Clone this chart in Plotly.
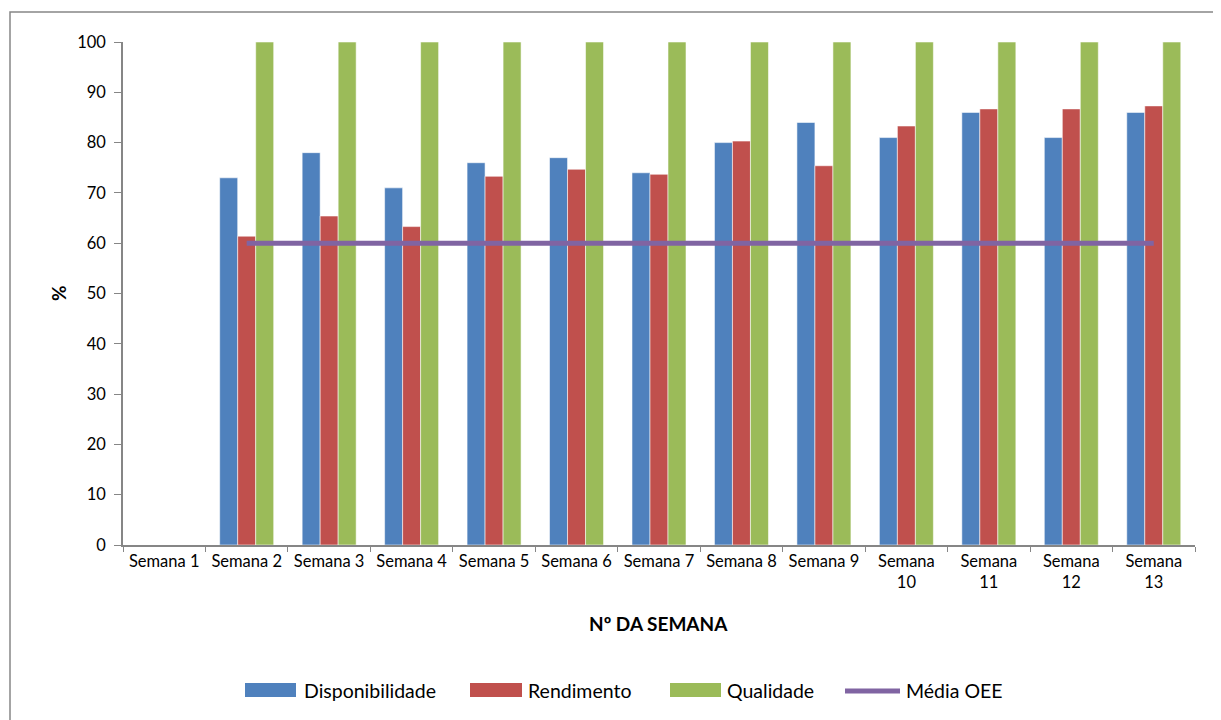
import plotly.graph_objects as go

semanas = ["Semana 1", "Semana 2", "Semana 3", "Semana 4", "Semana 5", "Semana 6", "Semana 7",
           "Semana 8", "Semana 9", "Semana<br>10", "Semana<br>11", "Semana<br>12", "Semana<br>13"]
disponibilidade = [None, 73, 78, 71, 76, 77, 74, 80, 84, 81, 86, 81, 86]
rendimento = [None, 61.4, 65.4, 63.3, 73.3, 74.7, 73.7, 80.3, 75.4, 83.3, 86.7, 86.7, 87.3]
qualidade = [None, 100, 100, 100, 100, 100, 100, 100, 100, 100, 100, 100, 100]
media_oee = [None, 60, 60, 60, 60, 60, 60, 60, 60, 60, 60, 60, 60]

series_names = ["Disponibilidade", "Rendimento", "Qualidade", "Média OEE"]
colors = ["#4F81BD", "#C0504D", "#9BBB59", "#8064A2"]

FONT = "Lato"
edge = dict(color="rgba(255,255,255,0.55)", width=1)

fig = go.Figure()
for vals, name, col in zip([disponibilidade, rendimento, qualidade], series_names[:3], colors[:3]):
    fig.add_trace(go.Bar(x=semanas, y=vals, name=name, showlegend=False,
                         marker=dict(color=col, line=edge)))
fig.add_trace(go.Scatter(x=semanas, y=media_oee, name=series_names[3], mode="lines",
                         showlegend=False, line=dict(color=colors[3], width=5)))

OFF = 8  # page body margin in the screenshot
W, H = 1221 - OFF, 720 - OFF
L, T = 123 - OFF, 42 - OFF
R = W - (1195 - OFF)
B = H - (545 - OFF)
pw, ph = W - L - R, H - T - B

def px(x):
    return (x - OFF - L) / pw

def py(y):
    return (H - B - (y - OFF)) / ph

# manual legend (Excel style wide swatches)
leg_y = 690
leg_items = [(245, 296, 302), (470, 522, 526), (670, 721, 725), (845, 900, 904)]
shapes = [
    dict(type="rect", xref="paper", yref="paper", x0=px(10), x1=px(1219),
         y0=py(760), y1=py(12), line=dict(color="#868686", width=1.5), layer="below"),
]
annotations = [
    dict(text="<b>Nº DA SEMANA</b>", xref="paper", yref="paper", x=px(658), y=py(623),
         showarrow=False, xanchor="center", yanchor="middle", font=dict(size=19)),
    dict(text="<b>%</b>", xref="paper", yref="paper", x=px(58), y=py(293),
         showarrow=False, textangle=-90, xanchor="center", yanchor="middle",
         font=dict(size=19)),
]
for i, (name, col) in enumerate(zip(series_names, colors)):
    x0, x1, tx = leg_items[i]
    if i < 3:
        shapes.append(dict(type="rect", xref="paper", yref="paper", x0=px(x0), x1=px(x1),
                           y0=py(leg_y + 7), y1=py(leg_y - 7), fillcolor=col,
                           line=dict(width=0)))
    else:
        shapes.append(dict(type="line", xref="paper", yref="paper", x0=px(x0), x1=px(x1),
                           y0=py(leg_y + 1), y1=py(leg_y + 1), line=dict(color=col, width=5)))
    annotations.append(dict(text=name, xref="paper", yref="paper", x=px(tx), y=py(leg_y),
                            showarrow=False, xanchor="left", yanchor="middle",
                            font=dict(size=19.5)))

fig.update_layout(
    width=W, height=H,
    margin=dict(l=L, r=R, t=T, b=B, autoexpand=False),
    paper_bgcolor="white", plot_bgcolor="white",
    font=dict(family=FONT, size=16.5, color="black"),
    barmode="group", bargap=0.345, bargroupgap=0,
    showlegend=False,
    xaxis=dict(showline=True, linecolor="#868686", linewidth=1.5, ticks="outside",
               tickson="boundaries", ticklen=5, tickcolor="#868686", showgrid=False,
               tickangle=0, automargin=False, tickfont=dict(size=16.5)),
    yaxis=dict(range=[0, 100], dtick=10, showline=True, linecolor="#868686", linewidth=1.5,
               ticks="outside", ticklen=7, tickcolor="#868686", showgrid=False,
               zeroline=False, automargin=False, tickfont=dict(size=16.5),
               ticklabelstandoff=5),
    annotations=annotations,
    shapes=shapes,
)

fig.write_html("out.html")
